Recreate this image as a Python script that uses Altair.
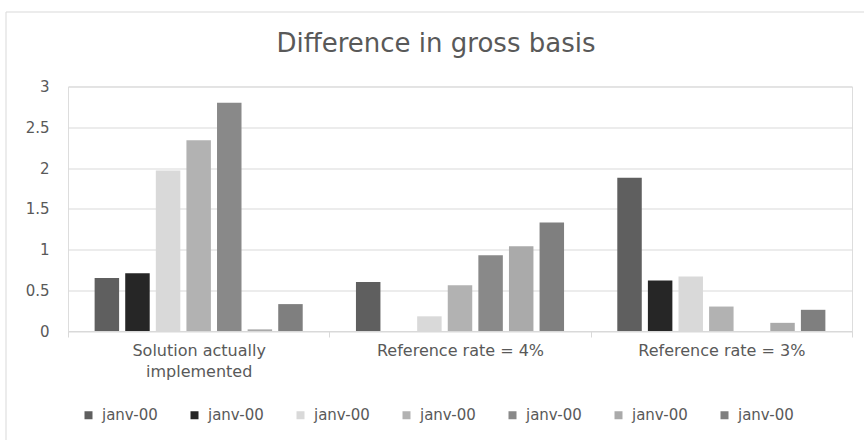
import altair as alt
import pandas as pd

categories = ["Solution actually implemented", "Reference rate = 4%", "Reference rate = 3%"]
series_ids = ["s1", "s2", "s3", "s4", "s5", "s6", "s7"]
series_label = "janv-00"
series_colors = ["#5f5f5f", "#262626", "#d9d9d9", "#b2b2b2", "#898989", "#aaaaaa", "#7f7f7f"]

s1 = [0.65, 0.60, 1.88]
s2 = [0.71, None, 0.62]
s3 = [1.97, 0.18, 0.67]
s4 = [2.34, 0.56, 0.30]
s5 = [2.80, 0.93, None]
s6 = [0.02, 1.04, 0.10]
s7 = [0.33, 1.33, 0.26]

y_ticks = [0, 0.5, 1, 1.5, 2, 2.5, 3]

series_values = [s1, s2, s3, s4, s5, s6, s7]
rows = []
for sid, vals in zip(series_ids, series_values):
    for cat, v in zip(categories, vals):
        rows.append({"category": cat, "series": sid, "value": v})
df = pd.DataFrame(rows)

FONT = "DejaVu Sans"
TXT = "#595959"

bars = alt.Chart(df).mark_bar().encode(
    x=alt.X("category:N", sort=categories,
            scale=alt.Scale(paddingInner=0, paddingOuter=0),
            axis=alt.Axis(title=None, labelAngle=0, domainColor="#d9d9d9",
                          tickColor="#d9d9d9", tickSize=6, tickBand="extent",
                          labelPadding=5, labelFont=FONT, labelFontSize=16,
                          labelColor=TXT, labelLineHeight=21,
                          labelExpr="datum.label == 'Solution actually implemented' ? ['Solution actually', 'implemented'] : datum.label")),
    xOffset=alt.XOffset("series:N", sort=series_ids,
                        scale=alt.Scale(paddingInner=0.2, paddingOuter=0.87)),
    y=alt.Y("value:Q", scale=alt.Scale(domain=[0, 3], nice=False),
            axis=alt.Axis(title=None, values=y_ticks, format="~g", domain=False,
                          ticks=False, gridColor="#d9d9d9", labelPadding=19,
                          labelFont=FONT, labelFontSize=15, labelColor=TXT)),
    color=alt.Color("series:N", sort=series_ids,
                    scale=alt.Scale(domain=series_ids, range=series_colors),
                    legend=alt.Legend(title=None, orient="none", legendX=13, legendY=321,
                                      direction="horizontal", columns=7,
                                      columnPadding=29, symbolType="square",
                                      symbolSize=64, symbolStrokeWidth=0,
                                      labelExpr="'" + series_label + "'",
                                      labelFont=FONT, labelFontSize=15,
                                      labelColor=TXT, labelOffset=6)),
)

border = alt.Chart(alt.Data(values=[{}])).mark_rect(
    filled=False, stroke="#d9d9d9", strokeWidth=1
).encode(
    x=alt.value(-62), x2=alt.value(900), y=alt.value(-74.5), y2=alt.value(380)
)

chart = alt.layer(border, bars).properties(
    width=784, height=244.5,
    title=alt.TitleParams("Difference in gross basis", font=FONT, fontSize=26,
                          fontWeight="normal", color=TXT, anchor="middle",
                          frame="group", baseline="alphabetic", offset=-66.5, dx=-24),
    autosize=alt.AutoSizeParams(type="none"),
    padding={"left": 68, "top": 86.5, "right": 12, "bottom": 109.5},
).configure_view(stroke=None).configure(background="white")

chart.save("out.html", embed_options={"renderer": "svg", "actions": False})
